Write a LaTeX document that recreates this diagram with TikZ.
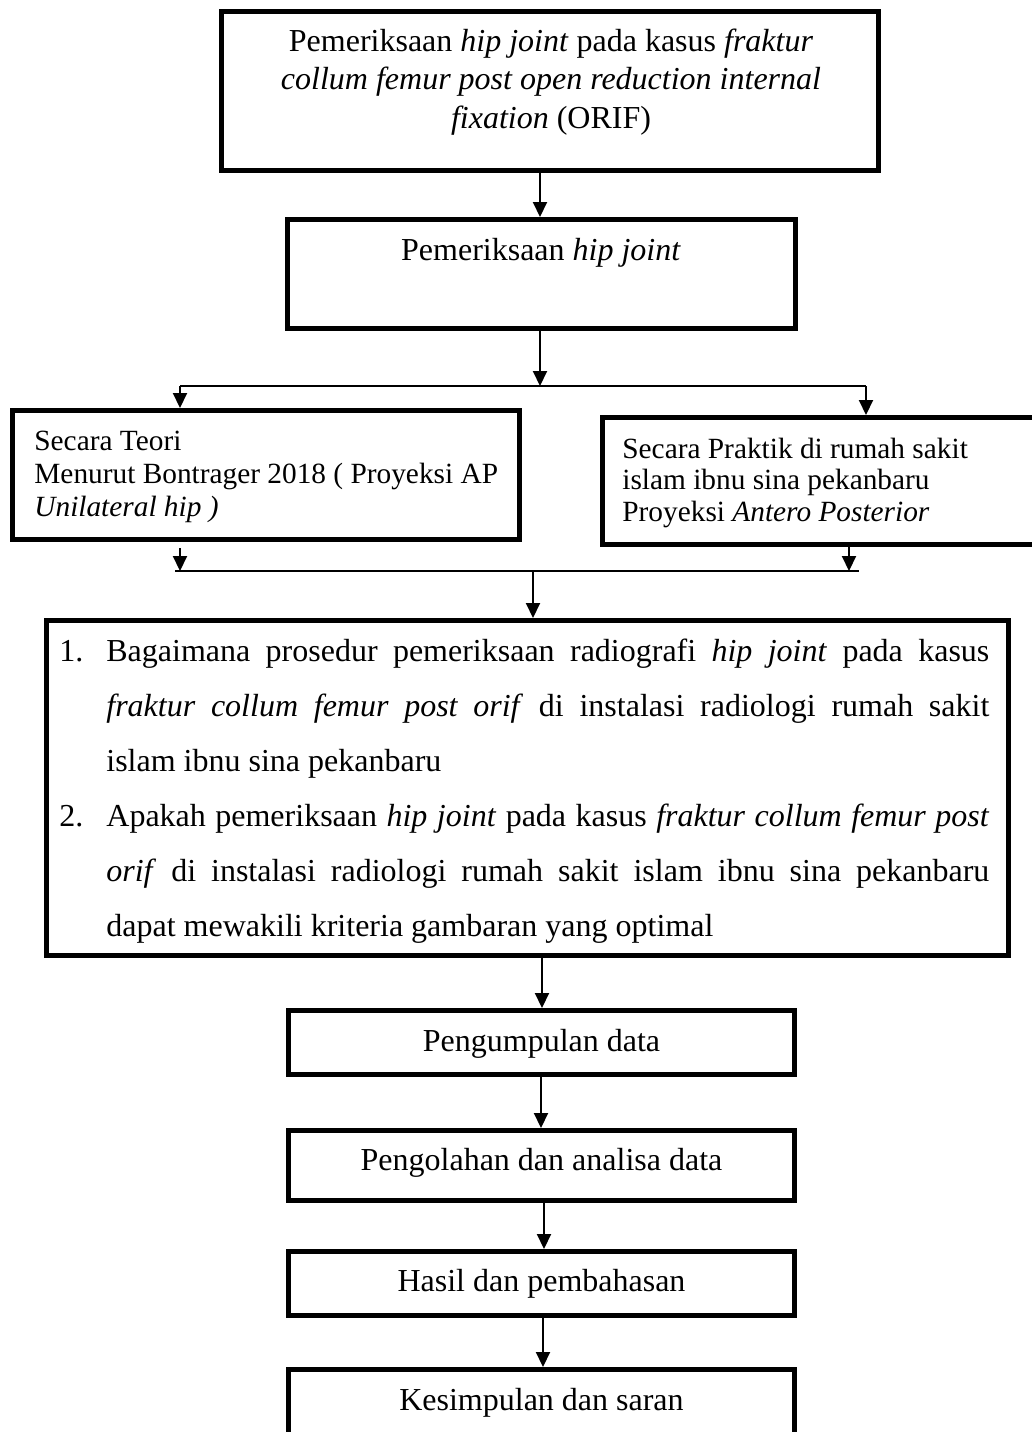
\documentclass[tikz,border=0pt]{standalone}
\usepackage{fontspec}
\setmainfont{Liberation Serif}
\usetikzlibrary{arrows.meta}
\tikzset{
  box/.style={draw, line width=2.5pt, inner sep=0pt, rectangle},
  arr/.style={-{Triangle[length=7.5pt,width=7pt]}, line width=1pt},
  plain/.style={line width=1pt},
  tl/.style={inner sep=0pt, anchor=base, font=\fontsize{16}{19}\selectfont},
  tlw/.style={inner sep=0pt, anchor=base west, font=\fontsize{16}{19}\selectfont},
  sl/.style={inner sep=0pt, anchor=base west, font=\fontsize{14.67}{17}\selectfont}
}
\begin{document}
\begin{tikzpicture}[x=0.5pt, y=-0.5pt]
\useasboundingbox (0,0) rectangle (1032,1432);
\clip (0,0) rectangle (1032,1432);
% boxes
\node[box, minimum width=328.5pt, minimum height=79.5pt] (b1) at (550,91) {};
\node[box, minimum width=254pt, minimum height=54.5pt] (b2) at (541.5,274) {};
\node[box, minimum width=253.5pt, minimum height=64.5pt] (bl) at (266,475) {};
\node[box, minimum width=222.5pt, minimum height=63.5pt] (br) at (825,481) {};
\node[box, minimum width=481pt, minimum height=167.5pt] (big) at (527.5,788) {};
\node[box, minimum width=253pt, minimum height=32pt] (p1) at (541.5,1042.5) {};
\node[box, minimum width=253pt, minimum height=35pt] (p2) at (541.5,1165.5) {};
\node[box, minimum width=253pt, minimum height=32pt] (p3) at (541.5,1283.5) {};
\node[box, minimum width=253pt, minimum height=34pt] (p4) at (541.5,1403.5) {};
% texts box 1
\node[tl] (t1a) at (551,51) {Pemeriksaan \textit{hip joint} pada kasus \textit{fraktur}};
\node[tl] (t1b) at (551,89.5) {\textit{collum femur post open reduction internal}};
\node[tl] (t1c) at (551,128) {\textit{fixation} (ORIF)};
% box 2
\node[tl] (t2) at (541,260) {Pemeriksaan \textit{hip joint}};
% left box
\node[sl] (tla) at (34,450) {Secara Teori};
\node[sl] (tlb) at (34,483) {Menurut Bontrager 2018 ( Proyeksi AP};
\node[sl] (tlc) at (34,516) {\textit{Unilateral hip )}};
% right box
\node[sl] (tra) at (622,458) {Secara Praktik di rumah sakit};
\node[sl] (trb) at (622,489.5) {islam ibnu sina pekanbaru};
\node[sl] (trc) at (622,521) {Proyeksi \textit{Antero Posterior}};
% big box
\node[tlw] (n1) at (59,661) {1.};
\node[tlw] (q1a) at (106,661) {\makebox[441.5pt][s]{Bagaimana prosedur pemeriksaan radiografi \textit{hip joint} pada kasus}};
\node[tlw] (q1b) at (106,716) {\makebox[441.5pt][s]{\textit{fraktur collum femur post orif} di instalasi radiologi rumah sakit}};
\node[tlw] (q1c) at (106,771) {islam ibnu sina pekanbaru};
\node[tlw] (n2) at (59,826) {2.};
\node[tlw] (q2a) at (106,826) {\makebox[441.5pt][s]{Apakah pemeriksaan \textit{hip joint} pada kasus \textit{fraktur collum femur post}}};
\node[tlw] (q2b) at (106,881) {\makebox[441.5pt][s]{\textit{orif} di instalasi radiologi rumah sakit islam ibnu sina pekanbaru}};
\node[tlw] (q2c) at (106,936) {dapat mewakili kriteria gambaran yang optimal};
% lower boxes text
\node[tl] (tp1) at (541.5,1051) {Pengumpulan data};
\node[tl] (tp2) at (541.5,1170) {Pengolahan dan analisa data};
\node[tl] (tp3) at (541.5,1291) {Hasil dan pembahasan};
\node[tl] (tp4) at (541.5,1410) {Kesimpulan dan saran};
% connector coordinates
\coordinate (j1) at (540,386);
\coordinate (cl) at (180,386);
\coordinate (cr) at (866,386);
\coordinate (dl) at (180,571);
\coordinate (dr) at (849,571);
\coordinate (jl) at (175,571);
\coordinate (jr) at (859,571);
\coordinate (j2) at (533,571);
\coordinate (k1) at (542,0);
\coordinate (k2) at (541,0);
\coordinate (k3) at (544,0);
\coordinate (k4) at (543,0);
% connectors
\draw[arr] (b1.south -| j1) -- (b2.north -| j1);
\draw[arr] (b2.south -| j1) -- (j1);
\draw[plain] (cl) -- (cr);
\draw[arr] (cl) -- (cl |- bl.north);
\draw[arr] (cr) -- (cr |- br.north);
\draw[arr] ([yshift=-3pt]dl |- bl.south) -- (dl);
\draw[arr] ([yshift=1pt]dr |- br.south) -- (dr);
\draw[plain] (jl) -- (jr);
\draw[arr] (j2) -- (j2 |- big.north);
\draw[arr] (k1 |- big.south) -- (k1 |- p1.north);
\draw[arr] (k2 |- p1.south) -- (k2 |- p2.north);
\draw[arr] (k3 |- p2.south) -- (k3 |- p3.north);
\draw[arr] (k4 |- p3.south) -- (k4 |- p4.north);
\end{tikzpicture}
\end{document}
